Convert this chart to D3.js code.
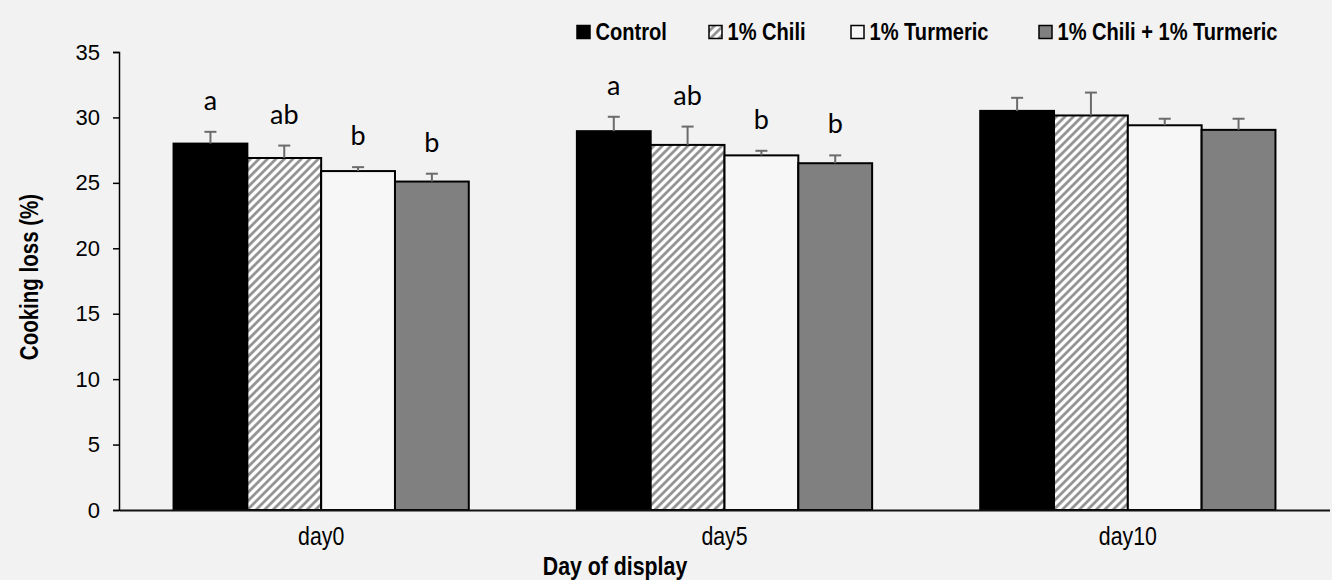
<!DOCTYPE html>
<html><head><meta charset="utf-8">
<script src="https://cdn.jsdelivr.net/npm/d3@7"></script>
<style>
html,body{margin:0;padding:0;background:#f2f2f2;}
svg{display:block;}
</style></head>
<body>
<svg id="chart" width="1332" height="580"></svg>
<script>
const days = ["day0", "day5", "day10"];
const treatments = ["Control", "1% Chili", "1% Turmeric", "1% Chili + 1% Turmeric"];
const control   = [28.0, 28.95, 30.5];
const chili     = [26.9, 27.9, 30.15];
const turmeric  = [25.9, 27.1, 29.4];
const combo     = [25.1, 26.5, 29.05];
const errControl  = [0.9, 1.1, 1.0];
const errChili    = [0.95, 1.4, 1.75];
const errTurmeric = [0.3, 0.35, 0.5];
const errCombo    = [0.6, 0.6, 0.85];
const letters = [["a","ab","b","b"],["a","ab","b","b"],["","","",""]];
const yTicks = [0,5,10,15,20,25,30,35];

const values = [control, chili, turmeric, combo];
const errs = [errControl, errChili, errTurmeric, errCombo];
const fills = ["#000000", "url(#hatch)", "#f7f7f7", "#808080"];
const NARROW = "'Liberation Sans', Arial, sans-serif";
const SQ = 0.82;

const svg = d3.select("#chart");
const defs = svg.append("defs");
const pat = defs.append("pattern").attr("id","hatch").attr("patternUnits","userSpaceOnUse")
  .attr("width",6).attr("height",6).attr("patternTransform","rotate(45)");
pat.append("rect").attr("width",6).attr("height",6).attr("fill","#ffffff");
pat.append("line").attr("x1",1.5).attr("y1",0).attr("x2",1.5).attr("y2",6)
  .attr("stroke","#8a8a8a").attr("stroke-width",2.6);

const x0 = d3.scaleBand().domain(days).range([119.5, 1329.5]).paddingInner(0.268).paddingOuter(0.134);
const x1 = d3.scaleBand().domain(treatments).range([0, x0.bandwidth()]);
const y = d3.scaleLinear().domain([0, 35]).range([510, 52]);

const rows = [];
days.forEach((d, i) => treatments.forEach((t, j) => rows.push({day:d, t, v: values[j][i], e: errs[j][i], fill: fills[j], lab: letters[i][j]})));

// bars
svg.append("g").selectAll("rect").data(rows).join("rect")
  .attr("x", d => x0(d.day) + x1(d.t))
  .attr("y", d => y(d.v))
  .attr("width", x1.bandwidth())
  .attr("height", d => y(0) - y(d.v))
  .attr("fill", d => d.fill)
  .attr("stroke", "#000").attr("stroke-width", 2);

// error bars
const eg = svg.append("g").attr("stroke","#6b6b6b").attr("stroke-width",2);
rows.forEach(d => {
  const cx = x0(d.day) + x1(d.t) + x1.bandwidth()/2;
  eg.append("line").attr("x1",cx).attr("x2",cx).attr("y1",y(d.v)).attr("y2",y(d.v+d.e));
  eg.append("line").attr("x1",cx-6).attr("x2",cx+6).attr("y1",y(d.v+d.e)).attr("y2",y(d.v+d.e));
});

// letters
svg.append("g").selectAll("text").data(rows.filter(d => d.lab)).join("text")
  .attr("x", d => x0(d.day) + x1(d.t) + x1.bandwidth()/2)
  .attr("y", d => y(d.v + d.e) - 22)
  .attr("text-anchor","middle")
  .style("font-family","Lato, 'Open Sans', sans-serif")
  .style("font-size", "27px").attr("fill","#000")
  .text(d => d.lab);

// y axis
const ya = svg.append("g").attr("transform","translate(119,0)")
  .call(d3.axisLeft(y).tickValues(yTicks).tickSize(6).tickPadding(13));
ya.select(".domain").attr("stroke","#000").attr("stroke-width",1.5);
ya.selectAll(".tick line").attr("stroke","#000").attr("stroke-width",1.5);
ya.selectAll(".tick text").style("font-family","'Liberation Sans', Arial, sans-serif").style("font-size","22px").attr("fill","#000");

// x axis
const xa = svg.append("g").attr("transform","translate(0,510)")
  .call(d3.axisBottom(x0).tickSize(0).tickPadding(17).tickSizeOuter(0));
xa.select(".domain").attr("stroke","#111").attr("stroke-width",2.2);
xa.selectAll(".tick text").style("font-family",NARROW)
  .style("font-size","26px").attr("fill","#000").attr("transform",`scale(${SQ},1)`);

function narrow(x, yy, txt, anchor, rot, size) {
  return svg.append("text")
    .attr("transform", `translate(${x},${yy})` + (rot ? ` rotate(${rot})` : "") + ` scale(${SQ},1)`)
    .attr("text-anchor", anchor)
    .style("font-family", NARROW).style("font-weight","bold").style("font-size",(size||24)+"px")
    .attr("fill","#000").text(txt);
}

// axis titles
narrow(615, 575, "Day of display", "middle", 0, 26);
narrow(38, 277, "Cooking loss (%)", "middle", -90, 25);

// legend
const legX = [577, 709, 851, 1039];
treatments.forEach((t, j) => {
  svg.append("rect").attr("x", legX[j]).attr("y", 25.5).attr("width", 13).attr("height", 13)
    .attr("fill", fills[j]).attr("stroke","#000").attr("stroke-width",1.5);
  narrow(legX[j] + 18.5, 39.5, t, "start", 0, 24.5);
});
</script>
</body></html>
